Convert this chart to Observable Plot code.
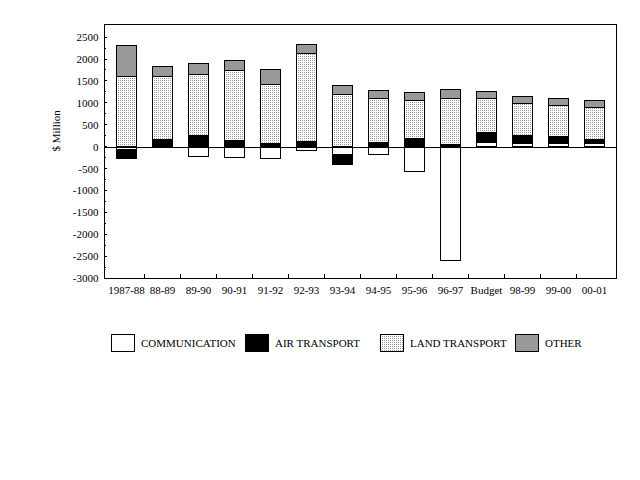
<!DOCTYPE html>
<html><head><meta charset="utf-8">
<script src="https://cdn.jsdelivr.net/npm/d3@7"></script>
<script src="https://cdn.jsdelivr.net/npm/@observablehq/plot@0.6"></script>
<style>
body{margin:0;background:#fff;font-family:"Liberation Serif","Times New Roman",serif;}
#wrap{position:relative;width:640px;height:480px;background:#fff;}
#wrap > svg{position:absolute;left:0;top:0;}
.leg{position:absolute;top:334px;height:18px;display:flex;align-items:center;font-size:11px;color:#000;white-space:nowrap;}
.leg svg{margin-right:6px;display:block;}
</style></head><body><div id="wrap"></div>
<script>
const periods = ["1987-88","88-89","89-90","90-91","91-92","92-93","93-94","94-95","95-96","96-97","Budget","98-99","99-00","00-01"];
const communication = [-70, 0, -215, -250, -280, -90, -190, -170, -575, -2600, 100, 75, 75, 75];
const airTransport = [-210, 160, 250, 137, 68, 114, -210, 100, 190, 50, 220, 175, 152, 91];
const landTransport = [1590, 1430, 1405, 1610, 1360, 2020, 1180, 1000, 860, 1060, 770, 745, 722, 737];
const other = [715, 250, 250, 228, 342, 205, 205, 175, 180, 190, 167, 160, 160, 160];
const seriesNames = ["COMMUNICATION","AIR TRANSPORT","LAND TRANSPORT","OTHER"];
const seriesValues = [communication, airTransport, landTransport, other];
const seriesFills = ["#ffffff","#000000","url(#dots)","#999999"];
const yTicks = d3.range(-3000, 2501, 500);
const yMinorTicks = d3.range(-2750, 2501, 500);
const yLabel = "$ Million";

const data = periods.flatMap((p, i) => seriesNames.map((s, k) => ({period: p, series: s, value: seriesValues[k][i]})));

const chart = Plot.plot({
  width: 640, height: 300,
  marginTop: 24, marginBottom: 22, marginLeft: 104, marginRight: 24,
  style: {fontFamily: '"Liberation Serif","Times New Roman",serif', fontSize: "11px", background: "white", color: "black"},
  x: {domain: periods, paddingInner: 0.44, paddingOuter: 0.22, label: null},
  y: {domain: [-3000, 2800], label: null},
  color: {domain: seriesNames, range: seriesFills},
  marks: [
    Plot.barY(data, {x: "period", y: "value", fill: "series", stroke: "black", strokeWidth: 1, shapeRendering: "crispEdges"}),
    Plot.ruleY([0], {stroke: "black", shapeRendering: "crispEdges"}),
    Plot.frame({stroke: "black", shapeRendering: "crispEdges"}),
    Plot.axisY({ticks: yTicks, tickSize: 0, tickPadding: 6, tickFormat: d => String(d), label: null}),
    Plot.axisX({tickSize: 0, tickPadding: 8, label: null}),
    Plot.text([yLabel], {frameAnchor: "left", rotate: -90, dx: -48, text: d => d})
  ]
});

const svg = d3.select(chart);
svg.insert("defs", ":first-child").html(
  '<pattern id="dots" width="2" height="2" patternUnits="userSpaceOnUse">' +
  '<rect width="2" height="2" fill="#ffffff"/><rect width="1" height="1" fill="#9a9a9a"/></pattern>');

const sx = chart.scale("x"), sy = chart.scale("y");
const bw = sx.bandwidth;
const step = sx.step ?? (sx.apply(periods[1]) - sx.apply(periods[0]));
const yb = sy.apply(-3000);
const x0 = sx.range[0];
const g = svg.append("g").attr("stroke", "black").attr("shape-rendering", "crispEdges");
periods.slice(1).forEach(p => {
  const xb = sx.apply(p) - (step - bw) / 2;
  g.append("line").attr("x1", xb).attr("x2", xb).attr("y1", yb).attr("y2", yb - 4);
});
yTicks.forEach(v => {
  const y = sy.apply(v);
  g.append("line").attr("x1", x0).attr("x2", x0 + 3).attr("y1", y).attr("y2", y);
});
yMinorTicks.forEach(v => {
  const y = sy.apply(v);
  g.append("line").attr("x1", x0).attr("x2", x0 + 2).attr("y1", y).attr("y2", y);
});

const wrap = document.getElementById("wrap");
wrap.appendChild(chart);

const legendX = [111, 245, 380, 515];
seriesNames.forEach((s, k) => {
  const item = d3.select(wrap).append("div").attr("class", "leg").style("left", legendX[k] + "px");
  const sw = item.append("svg").attr("width", 24).attr("height", 18);
  sw.append("rect").attr("x", 0.5).attr("y", 0.5).attr("width", 23).attr("height", 17)
    .attr("fill", seriesFills[k]).attr("stroke", "black");
  item.append("span").text(s);
});
</script></body></html>
